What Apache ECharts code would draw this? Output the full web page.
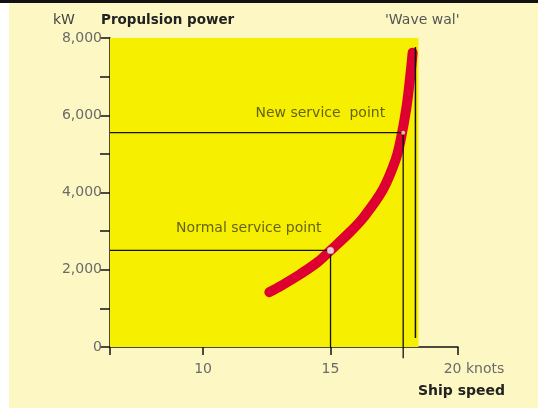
<!DOCTYPE html>
<html>
<head>
<meta charset="utf-8">
<script src="https://cdn.jsdelivr.net/npm/echarts@6/dist/echarts.min.js"></script>
<style>
  html, body { margin: 0; padding: 0; background: #fdf8c3; }
  #chart { width: 538px; height: 408px; }
</style>
</head>
<body>
<div id="chart"></div>
<script>
// propulsion power curve (knots, kW)
const speed = [12.6, 13.1, 13.8, 14.5, 15.0, 15.8, 16.3, 17.05, 17.55, 17.75, 17.98, 18.14, 18.22]
const power = [1420, 1600, 1880, 2200, 2500, 3000, 3360, 4070, 4840, 5360, 6210, 7090, 7620]

const normalPoint = [15, 2500]
const newPoint = [17.85, 5550]
const waveWall = [18.33, 7770, 230]   // speed, top, bottom

const xMin = 6.35
const xMax = 20
const xTicks = [6.35, 10, 15, 20]
const xLabels = [10, 15, 20]
const plotRight = 18.45
const yMax = 8000

const font = 'DejaVu Sans'
const curve = speed.map((s, i) => [s, power[i]])

const myChart = echarts.init(document.getElementById('chart'))
const option = {
  backgroundColor: '#fdf8c3',
  animation: false,
  grid: { left: 110, right: 80, top: 38, bottom: 61 },
  xAxis: {
    type: 'value',
    min: xMin,
    max: xMax,
    axisLine: { show: true, lineStyle: { color: '#111', width: 1.5 } },
    axisTick: { show: true, customValues: xTicks, length: 8, lineStyle: { color: '#111', width: 1.5 } },
    axisLabel: {
      customValues: xLabels,
      color: '#6a6a6a',
      fontFamily: font,
      fontSize: 14,
      margin: 15,
      formatter: function (v) {
        return v === 20 ? '{k|20 knots}' : String(v)
      },
      rich: { k: { padding: [0, 0, 0, 32], color: '#6a6a6a', fontFamily: font, fontSize: 14 } }
    },
    splitLine: { show: false }
  },
  yAxis: {
    type: 'value',
    min: 0,
    max: yMax,
    interval: 1000,
    axisLine: { show: true, lineStyle: { color: '#111', width: 1.5 } },
    axisTick: { show: true, length: 10, lineStyle: { color: '#111', width: 1.5 } },
    axisLabel: {
      color: '#6a6a6a',
      fontFamily: font,
      fontSize: 14,
      margin: 8,
      formatter: function (v) {
        // only every other tick has a number
        return v % 2000 === 0 ? v.toLocaleString('en-US') : ''
      }
    },
    splitLine: { show: false }
  },
  series: [
    {
      // yellow plot panel
      type: 'line',
      data: [],
      z: 1,
      markArea: {
        silent: true,
        itemStyle: { color: '#f7ef00' },
        data: [[{ xAxis: xMin, yAxis: 0 }, { xAxis: plotRight, yAxis: yMax }]]
      }
    },
    {
      type: 'line',
      data: curve,
      z: 3,
      smooth: 0.35,
      symbol: 'none',
      lineStyle: { color: '#de0030', width: 10, cap: 'round', join: 'round' }
    },
    {
      // normal service point guides
      type: 'line',
      data: [[xMin, normalPoint[1]], normalPoint, [normalPoint[0], 0]],
      z: 4,
      symbol: 'none',
      lineStyle: { color: '#111', width: 1.3 }
    },
    {
      // new service point guides, running a little below the axis
      type: 'line',
      clip: false,
      data: [[xMin, newPoint[1]], newPoint, [newPoint[0], -290]],
      z: 4,
      symbol: 'none',
      lineStyle: { color: '#111', width: 1.3 }
    },
    {
      // wave wall
      type: 'line',
      data: [[waveWall[0], waveWall[1]], [waveWall[0], waveWall[2]]],
      z: 4,
      symbol: 'none',
      lineStyle: { color: '#111', width: 1.5 }
    },
    {
      type: 'scatter',
      z: 5,
      data: [
        {
          value: normalPoint,
          symbolSize: 7,
          itemStyle: { color: '#ffffff', borderColor: '#888', borderWidth: 0.5 },
          label: { show: true, formatter: 'Normal service point', position: 'top', align: 'right', offset: [-9, -6] }
        },
        {
          value: newPoint,
          symbolSize: 4,
          itemStyle: { color: '#fbf4a0' },
          label: { show: true, formatter: 'New service  point', position: 'top', align: 'right', offset: [-18, -5] }
        }
      ],
      label: { color: '#3e3e18', fontFamily: font, fontSize: 14 }
    }
  ],
  graphic: [
    { type: 'rect', left: 0, top: 0, shape: { width: 9, height: 408 }, style: { fill: '#ffffff' } },
    { type: 'rect', left: 0, top: 0, shape: { width: 538, height: 3 }, style: { fill: '#111' } },
    { type: 'text', left: 53, top: 13, style: { text: 'kW', fill: '#444', font: '14px "DejaVu Sans"' } },
    { type: 'text', left: 101, top: 13, style: { text: 'Propulsion power', fill: '#222', font: 'bold 13.5px "DejaVu Sans"' } },
    { type: 'text', left: 385, top: 13, style: { text: '\'Wave wal\'', fill: '#555', font: '14px "DejaVu Sans"' } },
    { type: 'text', left: 418, top: 384, style: { text: 'Ship speed', fill: '#222', font: 'bold 14px "DejaVu Sans"' } }
  ]
}

myChart.setOption(option)
</script>
</body>
</html>
